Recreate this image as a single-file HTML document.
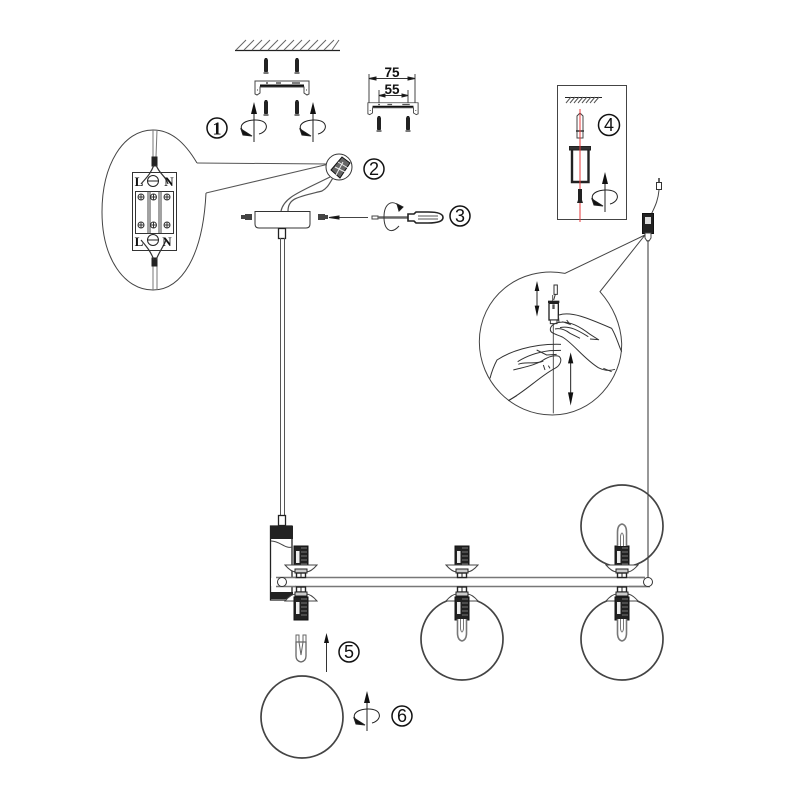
<!DOCTYPE html>
<html>
<head>
<meta charset="utf-8">
<style>
html,body{margin:0;padding:0;background:#fff;width:788px;height:788px;overflow:hidden}
svg{display:block}
text{font-family:"Liberation Sans",sans-serif;fill:#111}
</style>
</head>
<body>
<svg width="788" height="788" viewBox="0 0 788 788" fill="none" stroke="#222" stroke-width="1">
<defs>
  <g id="rot">
    <path d="M-7 6C-16 3-15-6 0-7C15-8 16 4 5 7" stroke="#222"/>
    <path d="M-13 2L-2 9L-11 8Z" fill="#111"/>
    <path d="M0-16V15" stroke="#222"/>
    <path d="M0-25L3-13H-3Z" fill="#111" stroke="none"/>
  </g>
  <g id="screw">
    <path d="M-1-8H1L2-6V5L1 8H-1L-2 5V-6Z" fill="#222" stroke="none"/>
    <rect x="-2.500" y="6" width="5" height="2" fill="#777" stroke="none"/>
  </g>
  <g id="bracket">
    <path d="M-27-5H27V8L25 9L22 7V1H-22V7L-25 9L-27 8Z" fill="#fff" stroke="#444"/>
    <path d="M-22-0.500H22" stroke="#111" stroke-width="2"/>
    <path d="M-16-3H-14M-6-3H-1M10-3H18" stroke="#555" stroke-width="1.500"/>
    <path d="M-25 4H-24M24 4H25" stroke="#333"/>
  </g>
  <g id="sock">
    <rect x="-7" y="-11" width="14" height="23" fill="#222" stroke="#111"/>
    <rect x="-5" y="-6" width="3.500" height="12" fill="#eee" stroke="none"/>
    <path d="M0-9H6M0-5H6M0-1H6M0 3H6M0 7H6" stroke="#777"/>
  </g>
  <g id="nutup">
    <use href="#sock" y="-15"/>
    <path d="M-16-7H16Q10 0 5 0H-5Q-10 0-16-7Z" fill="#fff" stroke="#444"/>
    <rect x="-6" y="-3" width="12" height="4" fill="#ccc" stroke="#222"/>
    <rect x="-4.500" y="1" width="9" height="4.500" fill="#fff" stroke="#222" stroke-width="1.400"/>
    <path d="M0 1V5" stroke="#222"/>
  </g>
  <g id="nutdn">
    <rect x="-4.500" y="-5" width="9" height="5" fill="#fff" stroke="#222" stroke-width="1.400"/>
    <path d="M0-5V0" stroke="#222"/>
    <path d="M-16 9H16Q10 2 5 2H-5Q-10 2-16 9Z" fill="#fff" stroke="#444"/>
    <rect x="-6" y="0" width="12" height="4" fill="#ccc" stroke="#222"/>
    <use href="#sock" y="16"/>
  </g>
  <g id="bulb">
    <path d="M-4.500 0V14Q-4.500 21 0 22Q4.500 21 4.500 14V0" fill="#fff" stroke="#777" stroke-width="1.600"/>
    <path d="M-1.500 0V10Q0 16 1.500 10V0" stroke="#777"/>
  </g>
</defs>

<!-- ceiling and bracket -->
<path d="M235 50.500H340" stroke="#222" stroke-width="1.200"/>
<path d="M236 50L246 40M244 50L254 40M252 50L262 40M260 50L270 40M268 50L278 40M276 50L286 40M284 50L294 40M292 50L302 40M300 50L310 40M308 50L318 40M316 50L326 40M324 50L334 40M332 50L339 40" stroke="#666"/>
<use href="#screw" transform="translate(266,66)"/>
<use href="#screw" transform="translate(297,66)"/>
<use href="#bracket" x="282" y="86"/>
<use href="#screw" transform="translate(266,108)"/>
<use href="#screw" transform="translate(297,108)"/>
<use href="#rot" x="254" y="127"/>
<use href="#rot" x="313" y="127"/>
<circle cx="217" cy="128" r="10" stroke="#111" stroke-width="1.500"/>
<text x="217" y="134.500" font-size="18" font-weight="bold" text-anchor="middle" stroke="none" style="font-family:'Liberation Serif',serif">1</text>

<!-- dimensions -->
<text x="392" y="77" font-size="13.500" font-weight="bold" text-anchor="middle" stroke="none">75</text>
<text x="392" y="94" font-size="13.500" font-weight="bold" text-anchor="middle" stroke="none">55</text>
<path d="M369 74V103M415 74V103M379 90V103M408 90V103" stroke="#444"/>
<path d="M369 78.500H415M379 95.500H408" stroke="#333"/>
<path d="M369 78.500L376 77V80ZM415 78.500L408 77V80ZM379 95.500L385 94V97ZM408 95.500L402 94V97Z" fill="#111"/>
<use href="#bracket" transform="translate(393,107) scale(.93,.85)"/>
<use href="#screw" transform="translate(379,124)"/>
<use href="#screw" transform="translate(408,124)"/>

<!-- wiring callout -->
<path d="M197 163L329 164L206 193" stroke="#555"/>
<path d="M197 163C184 141 170 130 153 130C123 130 102 165 102 212C102 258 124 290 153 290C182 290 203 255 206 193" stroke="#444"/>
<path d="M153 130V157M157 130L156 157M153 263V290M157 263V290" stroke="#777"/>
<rect x="132.500" y="172.500" width="44" height="78" stroke="#333"/>
<rect x="135.500" y="191.500" width="38" height="42" stroke="#333"/>
<path d="M148 191V233M150 191V233M159 191V233M161 191V233" stroke="#444"/>
<path d="M152 157H157V166H152ZM152 258H157V266H152Z" fill="#222"/>
<path d="M154 165C150 175 146 178 141 184M156 165C160 175 166 176 168 184M154 260C150 250 146 246 141 240M156 260C160 250 164 246 166 240" stroke="#333" stroke-width="1.200"/>
<circle cx="153" cy="181" r="5.500" fill="#fff" stroke="#222"/><path d="M147.500 181H158.500" stroke="#222"/>
<circle cx="153" cy="240" r="5.500" fill="#fff" stroke="#222"/><path d="M147.500 240H158.500" stroke="#222"/>
<g fill="#fff" stroke="#333">
  <circle cx="141" cy="197" r="3"/><circle cx="153.500" cy="197" r="3"/><circle cx="167" cy="197" r="3"/>
  <circle cx="141" cy="225" r="3"/><circle cx="153.500" cy="225" r="3"/><circle cx="167" cy="225" r="3"/>
</g>
<path d="M138 197H144M141 194V200M150.500 197H156.500M153.500 194V200M164 197H170M167 194V200M138 225H144M141 222V228M150.500 225H156.500M153.500 222V228M164 225H170M167 222V228" stroke="#333"/>
<text x="139" y="186" font-size="13" font-weight="bold" text-anchor="middle" stroke="none" style="font-family:'Liberation Serif',serif">L</text>
<text x="169" y="186" font-size="13" font-weight="bold" text-anchor="middle" stroke="none" style="font-family:'Liberation Serif',serif">N</text>
<text x="139" y="246" font-size="13" font-weight="bold" text-anchor="middle" stroke="none" style="font-family:'Liberation Serif',serif">L</text>
<text x="167" y="246" font-size="13" font-weight="bold" text-anchor="middle" stroke="none" style="font-family:'Liberation Serif',serif">N</text>

<!-- connector circle -->
<circle cx="339" cy="167" r="13" fill="#fff" stroke="#333"/>
<path d="M331 170L342 157L350 163L340 178Z" fill="#666" stroke="#111"/>
<path d="M335 167L345 172M338 162L348 168M336 175L343 162" stroke="#eee"/>
<circle cx="374" cy="169" r="10" stroke="#111" stroke-width="1.500"/>
<text x="374" y="175" font-size="18" text-anchor="middle" stroke="none">2</text>

<!-- canopy -->
<path d="M281 211C284 197 300 192 330 177M288 211C288 198 298 197 322 191C328 188 330 182 333 178" stroke="#555" stroke-width="1.200"/>
<path d="M255 211.500H310V224Q310 228 306 228H259Q255 228 255 224Z" fill="#fff" stroke="#333"/>
<rect x="278.500" y="228.500" width="7" height="10" stroke="#222" stroke-width="1.300"/>
<path d="M280.500 238V515M284.500 238V515" stroke="#555"/>
<path d="M241 215H245V219H241ZM245 214H252V220H245Z" fill="#444" stroke="none"/>
<path d="M318 214H325V220H318ZM325 215H328V219H325Z" fill="#444" stroke="none"/>
<path d="M336 217.500H368" stroke="#444"/>
<path d="M329 217.500L339 216V219Z" fill="#111"/>

<!-- screwdriver -->
<rect x="372" y="216" width="6" height="3" stroke="#444"/>
<path d="M378 217.500H408" stroke="#666" stroke-width="2.500"/>
<path d="M408 214H414L416 212H428Q443 212 443 217.500Q443 223 428 223H416L414 221H408Z" fill="#fff" stroke="#222" stroke-width="1.600"/>
<path d="M418 216H438M418 219H438" stroke="#555"/>
<path d="M400 207C392 198 384 204 384 217C384 230 391 235 399 226" stroke="#333"/>
<path d="M397 204L403 207L399 211Z" fill="#111"/>
<circle cx="460" cy="216" r="10" stroke="#111" stroke-width="1.500"/>
<text x="460" y="222" font-size="18" text-anchor="middle" stroke="none">3</text>

<!-- box 4 -->
<rect x="557.500" y="85.500" width="69" height="134" stroke="#444"/>
<path d="M565 97.500H602" stroke="#222"/>
<path d="M566 103L571 97M570 103L575 97M574 103L579 97M578 103L583 97M582 103L587 97M586 103L591 97M590 103L595 97M594 103L599 97" stroke="#555"/>
<path d="M577 116L580 113L583 116V138H577Z" stroke="#444"/>
<path d="M576 131H584" stroke="#333" stroke-width="1.500"/>
<rect x="569.500" y="146.500" width="21" height="3.500" fill="#333" stroke="#222"/>
<path d="M572 150V182H588.500V150" stroke="#222" stroke-width="2.400"/>
<path d="M580 109V222" stroke="#e5383b"/>
<path d="M578 189H582V200L583 203H577L578 200Z" fill="#222" stroke="none"/>
<use href="#rot" x="605" y="197"/>
<circle cx="609" cy="125" r="10.500" stroke="#111" stroke-width="1.500"/>
<text x="609" y="131" font-size="18" text-anchor="middle" stroke="none">4</text>

<!-- right suspension -->
<rect x="656.500" y="182.500" width="5" height="7" stroke="#333"/>
<path d="M659 178V182" stroke="#333" stroke-width="1.500"/>
<path d="M659 190C658 202 654 208 651 215" stroke="#444"/>
<rect x="642.500" y="213.500" width="11" height="20" fill="#222" stroke="#111"/>
<rect x="645" y="217" width="6" height="7" fill="#ddd" stroke="none"/>
<path d="M645 233H651V238L649 241H647L645 238Z" fill="#fff" stroke="#444"/>
<path d="M648 240V578" stroke="#444" stroke-width="1.100"/>

<!-- hand callout -->
<g transform="translate(475,235) scale(.33333)" stroke="#333" stroke-width="3">
  <path d="M510 0L270 115C130 90 13 190 13 320C13 440 110 540 232 540C355 540 442 430 440 325C438 270 415 215 375 170L510 0" stroke="#444"/>
  <path d="M233 180V258M235 258V535" stroke="#555"/>
  <path d="M237 150H247V178H237Z" stroke="#333"/>
  <path d="M241 178L236 195" stroke="#333"/>
  <rect x="222" y="205" width="28" height="50" fill="#fff" stroke="#222" stroke-width="4"/>
  <rect x="219" y="197" width="34" height="7" fill="#222" stroke="none"/>
  <rect x="232" y="208" width="7" height="14" fill="#555" stroke="none"/>
  <path d="M226 255H246V266H226Z" fill="#fff"/>
  <path d="M186 165V220" stroke="#222"/>
  <path d="M186 138L193 168H179ZM186 245L193 212H179Z" fill="#111" stroke="none"/>
  <path d="M287 380V485" stroke="#222"/>
  <path d="M287 352L295 385H279ZM287 512L295 472H279Z" fill="#111" stroke="none"/>
  <!-- right hand -->
  <path d="M252 240C290 228 340 250 410 280C425 305 430 330 440 350"/>
  <path d="M250 240L252 262C235 265 225 275 226 285C228 296 245 298 262 306C295 325 325 370 370 398C390 408 405 408 420 403"/>
  <path d="M252 262C285 258 315 275 345 298L372 315M255 278C285 270 315 290 340 305M240 282C258 278 272 285 285 295L315 310M262 260L285 268L275 255"/>
  <path d="M345 312L370 314M385 400L410 410"/>
  <!-- left hand -->
  <path d="M45 430C50 410 58 390 66 375C100 352 170 325 258 328"/>
  <path d="M100 497C150 470 200 420 240 400C258 390 262 372 252 364C235 358 215 368 200 378C175 393 140 398 115 405"/>
  <path d="M128 380C150 366 185 352 225 347L258 346M130 388C150 378 180 390 205 378M185 345L215 360L245 358M100 497L125 482M205 390L210 405M220 392L225 400"/>
</g>

<!-- bar -->
<path d="M276 577.500H645M276 586.500H650" stroke="#777" stroke-width="1.600"/>

<!-- junction body -->
<rect x="278.500" y="515.500" width="7" height="10" stroke="#222" stroke-width="1.300"/>
<path d="M270.500 526V600H292V526Z" fill="#fff" stroke="#222" stroke-width="1.300"/>
<rect x="270" y="526" width="23" height="13" fill="#222" stroke="none"/>
<path d="M271 541C280 541 285 549 292 547" stroke="#444"/>
<rect x="270" y="592" width="23" height="7" fill="#222" stroke="none"/>
<rect x="271" y="578" width="24" height="8" fill="#fff" stroke="none"/>
<path d="M276 577.500H296M276 586.500H296" stroke="#777" stroke-width="1.600"/>
<circle cx="282" cy="582" r="4.500" fill="#fff" stroke="#333"/>

<use href="#nutup" x="301" y="572"/>
<use href="#nutdn" x="301" y="592"/>
<use href="#nutup" x="462" y="572"/>

<!-- globes -->
<circle cx="462" cy="639" r="41" stroke="#444" stroke-width="1.700"/>
<circle cx="622" cy="526" r="41" stroke="#444" stroke-width="1.700"/>
<circle cx="622" cy="639" r="41" stroke="#444" stroke-width="1.700"/>
<circle cx="302" cy="717" r="41" stroke="#444" stroke-width="1.700"/>

<use href="#nutdn" x="462" y="592"/>
<use href="#bulb" x="462" y="619"/>
<use href="#nutup" x="622" y="572"/>
<use href="#bulb" transform="translate(622,546) scale(1,-1)"/>
<use href="#nutdn" x="622" y="592"/>
<use href="#bulb" x="622" y="619"/>
<path d="M629 577.500H645M629 586.500H650" stroke="#777" stroke-width="1.600"/>
<circle cx="648" cy="582" r="4.500" fill="#fff" stroke="#333"/>

<!-- step 5/6 -->
<path d="M296 635H299V642H296ZM303 635H306V642H303Z" stroke="#666"/>
<path d="M296 642V656Q296 661 301 662Q306 661 306 656V642Z" fill="#fff" stroke="#666" stroke-width="1.300"/>
<path d="M299 642L301 655L303 642" stroke="#666"/>
<path d="M326.500 640V672" stroke="#333"/>
<path d="M326.500 633L329 643H324Z" fill="#111" stroke="none"/>
<circle cx="349" cy="652" r="10" stroke="#111" stroke-width="1.500"/>
<text x="349" y="658" font-size="18" text-anchor="middle" stroke="none">5</text>
<use href="#rot" x="367" y="716"/>
<circle cx="402" cy="716" r="10" stroke="#111" stroke-width="1.500"/>
<text x="402" y="722" font-size="18" text-anchor="middle" stroke="none">6</text>
</svg>
</body>
</html>
